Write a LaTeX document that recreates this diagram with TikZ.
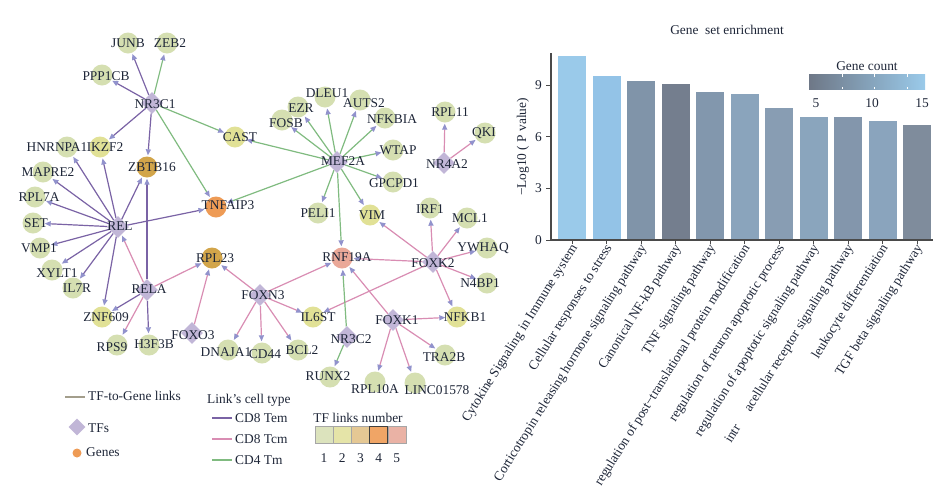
\documentclass[tikz,border=0pt]{standalone}
\usepackage{fontspec}
\setmainfont{Liberation Serif}
\usetikzlibrary{shapes.geometric,arrows.meta}
\pgfdeclarelayer{bg}
\pgfdeclarelayer{paper}
\pgfsetlayers{paper,bg,main}
\definecolor{txt}{HTML}{1E2638}
\definecolor{cA}{HTML}{D5DFB1}
\definecolor{cB}{HTML}{E1E196}
\definecolor{cC}{HTML}{D2A54A}
\definecolor{cD}{HTML}{EE9B55}
\definecolor{cE}{HTML}{EAA898}
\definecolor{tfc}{HTML}{C1B6D7}
\definecolor{purp}{HTML}{7A63A5}
\definecolor{pinkc}{HTML}{D98DB3}
\definecolor{grn}{HTML}{80BB80}
\definecolor{arrc}{HTML}{9192CC}
\definecolor{lkgray}{HTML}{A39E8C}
\definecolor{b1}{HTML}{9ACAEA}
\definecolor{b2}{HTML}{93C3E7}
\definecolor{b3}{HTML}{8094A9}
\definecolor{b4}{HTML}{747E8E}
\definecolor{b5}{HTML}{8297AD}
\definecolor{b6}{HTML}{8AA4BC}
\definecolor{b7}{HTML}{889DB3}
\definecolor{b8}{HTML}{8AA5BD}
\definecolor{b9}{HTML}{8396AC}
\definecolor{b10}{HTML}{8AA4BD}
\definecolor{b11}{HTML}{7F8C9C}
\definecolor{axc}{HTML}{4A4A4A}
\newcommand\mkg[7]{\node[gene,fill=#4] (#1) at (#2,#3) {}; \node[lbl] at (#5,#6) {#7};}
\newcommand\mkt[5]{\node[tf] (#1) at (#2,#3) {}; \node[lbl] at (#4,#5) {#1};}
\begin{document}
\begin{tikzpicture}[x=1pt,y=-1pt,
  every node/.style={font=\fontsize{13.4}{15}\selectfont, text=txt},
  gene/.style={circle, minimum size=21pt, inner sep=0pt, draw=none},
  tf/.style={diamond, minimum width=22pt, minimum height=22pt, inner sep=0pt, fill=tfc},
  lbl/.style={inner sep=0pt},
  lk/.style={line width=1.2pt, -{Triangle[length=6pt,width=5pt,color=arrc]}, shorten >=1pt},
  lkP/.style={lk, draw=purp},
  lkK/.style={lk, draw=pinkc},
  lkG/.style={lk, draw=grn},
  tick/.style={axc, line width=0.9pt}]
\useasboundingbox (0,0) rectangle (941,485);
\begin{pgfonlayer}{paper}
\fill[white] (0,0) rectangle (941,485);
\end{pgfonlayer}

% ---------- genes ----------
\mkg{JUNB}{128}{43}{cA}{128}{43}{JUNB}
\mkg{ZEB2}{167}{43}{cA}{170}{43}{ZEB2}
\mkg{PPP1CB}{102}{75}{cA}{106}{76}{PPP1CB}
\mkg{CAST}{235}{137}{cB}{240}{137}{CAST}
\mkg{HNRNPA1}{67}{147}{cA}{57}{147}{HNRNPA1}
\mkg{IKZF2}{100}{147}{cB}{105}{147}{IKZF2}
\mkg{ZBTB16}{147}{167}{cC}{152}{167}{ZBTB16}
\mkg{MAPRE2}{43}{172}{cA}{48}{172}{MAPRE2}
\mkg{RPL7A}{35}{197}{cA}{39}{197}{RPL7A}
\mkg{SET}{33}{223}{cA}{36}{223}{SET}
\mkg{VMP1}{40}{248}{cA}{39}{248}{VMP1}
\mkg{XYLT1}{52}{270}{cA}{57}{273}{XYLT1}
\mkg{IL7R}{73}{288}{cA}{77}{288}{IL7R}
\mkg{TNFAIP3}{216}{207}{cD}{228}{205}{TNFAIP3}
\mkg{ZNF609}{102}{317}{cB}{106}{317}{ZNF609}
\mkg{RPL23}{212}{258}{cC}{215}{258}{RPL23}
\mkg{RPS9}{117}{345}{cA}{112}{347}{RPS9}
\mkg{H3F3B}{149}{345}{cA}{154}{344}{H3F3B}
\mkg{DNAJA1}{228}{350}{cA}{226}{352}{DNAJA1}
\mkg{PELI1}{318}{213}{cA}{318}{213}{PELI1}
\mkg{VIM}{370}{215}{cB}{372}{215}{VIM}
\mkg{RNF19A}{342}{258}{cE}{347}{257}{RNF19A}
\mkg{IRF1}{430}{208}{cA}{430}{209}{IRF1}
\mkg{MCL1}{467}{218}{cA}{470}{218}{MCL1}
\mkg{YWHAQ}{487}{248}{cA}{483}{248}{YWHAQ}
\mkg{N4BP1}{487}{283}{cA}{480}{283}{N4BP1}
\mkg{NFKB1}{457}{317}{cB}{465}{317}{NFKB1}
\mkg{IL6ST}{313}{317}{cB}{318}{317}{IL6ST}
\mkg{CD44}{262}{353}{cA}{265}{354}{CD44}
\mkg{BCL2}{298}{350}{cA}{302}{350}{BCL2}
\mkg{RUNX2}{330}{377}{cA}{328}{376}{RUNX2}
\mkg{RPL10A}{375}{382}{cA}{375}{389}{RPL10A}
\mkg{LINC01578}{415}{383}{cA}{437}{390}{LINC01578}
\mkg{TRA2B}{445}{355}{cA}{444}{357}{TRA2B}
\mkg{DLEU1}{325}{97}{cA}{327}{93}{DLEU1}
\mkg{EZR}{298}{107}{cA}{301}{108}{EZR}
\mkg{FOSB}{282}{120}{cA}{286}{123}{FOSB}
\mkg{AUTS2}{360}{100}{cA}{364}{103}{AUTS2}
\mkg{NFKBIA}{385}{118}{cA}{392}{119}{NFKBIA}
\mkg{WTAP}{393}{150}{cA}{398}{150}{WTAP}
\mkg{GPCPD1}{393}{182}{cA}{394}{183}{GPCPD1}
\mkg{RPL11}{445}{112}{cA}{450}{112}{RPL11}
\mkg{QKI}{485}{133}{cA}{484}{133}{QKI}

% ---------- TFs ----------
\mkt{NR3C1}{152}{103}{155}{104}
\mkt{REL}{118}{227}{120}{226}
\mkt{RELA}{147}{290}{149}{289}
\mkt{FOXO3}{192}{333}{193}{335}
\mkt{FOXN3}{260}{295}{263}{295}
\mkt{MEF2A}{337}{162}{343}{161}
\mkt{NR4A2}{444}{163}{447}{164}
\mkt{FOXK2}{433}{262}{433}{263}
\mkt{FOXK1}{393}{320}{397}{320}
\mkt{NR3C2}{347}{337}{351}{339}

% ---------- links ----------
\begin{pgfonlayer}{bg}
\foreach \g in {JUNB,PPP1CB,IKZF2,ZBTB16} \draw[lkP] (NR3C1) -- (\g);
\foreach \g in {ZEB2,CAST,TNFAIP3} \draw[lkG] (NR3C1) -- (\g);
\foreach \g in {MAPRE2,HNRNPA1,IKZF2,ZBTB16,RPL7A,SET,VMP1,XYLT1,IL7R,ZNF609,TNFAIP3} \draw[lkP] (REL) -- (\g);
\foreach \g in {ZNF609,H3F3B,ZBTB16} \draw[lkP] (RELA) -- (\g);
\foreach \g in {REL,RPL23,RPS9} \draw[lkK] (RELA) -- (\g);
\draw[lkK] (FOXO3) -- (RPL23);
\foreach \g in {RPL23,RNF19A,IL6ST,DNAJA1,CD44,BCL2} \draw[lkK] (FOXN3) -- (\g);
\foreach \g in {CAST,TNFAIP3,FOSB,EZR,DLEU1,AUTS2,NFKBIA,WTAP,GPCPD1,PELI1,RNF19A,VIM} \draw[lkG] (MEF2A) -- (\g);
\foreach \g in {RPL11,QKI} \draw[lkK] (NR4A2) -- (\g);
\foreach \g in {VIM,RNF19A,IRF1,MCL1,YWHAQ,N4BP1,NFKB1,IL6ST} \draw[lkK] (FOXK2) -- (\g);
\foreach \g in {RNF19A,NFKB1,TRA2B,LINC01578,RPL10A} \draw[lkK] (FOXK1) -- (\g);
\foreach \g in {RNF19A,RUNX2} \draw[lkG] (NR3C2) -- (\g);
\end{pgfonlayer}

% ---------- network legend ----------
\draw[lkgray, line width=1.5pt] (65,397) -- (85,397);
\node[lbl, anchor=west] at (88,396) {TF-to-Gene links};
\node[tf, minimum width=17pt, minimum height=17pt] (lgTF) at (77,427) {};
\node[lbl, anchor=west] at (88,428) {TFs};
\node[circle, fill=cD, minimum size=9pt, inner sep=0pt] (lgGene) at (77,453) {};
\node[lbl, anchor=west] at (86,452) {Genes};
\node[lbl, anchor=west] at (207,400) {Link’s cell type};
\draw[purp, line width=1.3pt] (212,418) -- (232,418);
\node[lbl, anchor=west] at (235,418) {CD8 Tem};
\draw[pinkc, line width=1.3pt] (212,439) -- (232,439);
\node[lbl, anchor=west] at (235,439) {CD8 Tcm};
\draw[grn, line width=1.3pt] (212,460) -- (232,460);
\node[lbl, anchor=west] at (235,460) {CD4 Tm};
\node[lbl] at (358,418) {TF links number};
\foreach \i/\c in {1/DCE3BD,2/E5E4A8,3/E5C894,5/EAB2A5}{
  \definecolor{tmpc}{HTML}{\c}
  \fill[tmpc, draw=gray!70] ({315+(\i-1)*18.2},426) rectangle ++(18.2,17);
  \node[lbl] at ({324+(\i-1)*18.2},458) {\i};
}
\fill[cD!90!white, draw=black!75, line width=0.8pt] ({315+3*18.2},426) rectangle ++(18.2,17);
\node[lbl] at ({324+3*18.2},458) {4};

% ---------- bar chart ----------
\node[lbl] at (727,30) {Gene\ \ set enrichment};
\foreach \cx/\top/\col in {572/56/b1,606.5/76/b2,641/81/b3,675.5/84/b4,710/92/b5,744.5/94/b6,779/108/b7,813.5/117/b8,848/117/b9,882.5/121/b10,917/125/b11}{
  \fill[\col] (\cx-14,240) rectangle (\cx+14,\top);
  \draw[tick] (\cx,240) -- (\cx,243.5);
}
\draw[axc, line width=1.2pt] (551,53) -- (551,240) -- (933,240);
\foreach \v in {0,3,6,9}{
  \draw[tick] (551,{240-17.2*\v}) -- (546,{240-17.2*\v});
  \node[lbl, anchor=east] at (542,{240-17.2*\v}) {\v};
}
\node[lbl, rotate=90] at (523,147) {−Log10 ( P value)};
\foreach \cx/\t in {572/Cytokine Signaling in Immune system,
  606.5/Cellular responses to stress,
  641/Corticotropin releasing hormone signaling pathway,
  675.5/Canonical NF-kB pathway,
  710/TNF signaling pathway,
  744.5/regulation of post−translational protein modification,
  779/regulation of neuron apoptotic process,
  813.5/regulation of apoptotic signaling pathway,
  848/intr\hspace{18pt}acellular receptor signaling pathway,
  882.5/leukocyte differentiation,
  917/TGF beta signaling pathway}{
  \node[lbl, rotate=58, anchor=east] at (\cx+3,246) {\t};
}
% gene count legend
\node[lbl] at (867,66) {Gene count};
\shade[left color=b4!95!black, right color=b1] (809,74) rectangle (925,89);
\foreach \tx in {842,874,907}{
  \draw[white, line width=0.8pt] (\tx,74) -- (\tx,76.5);
  \draw[white, line width=0.8pt] (\tx,89) -- (\tx,86.5);
}
\node[lbl] at (816,103) {5};
\node[lbl] at (872,103) {10};
\node[lbl] at (922,103) {15};
\end{tikzpicture}
\end{document}
